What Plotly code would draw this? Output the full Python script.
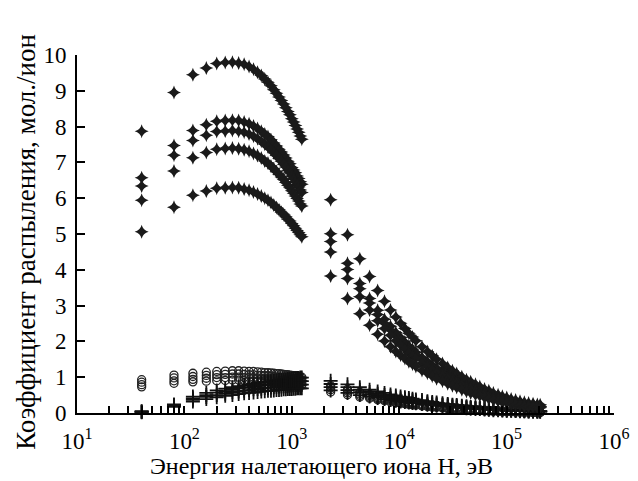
import plotly.graph_objects as go

# ---------------- data ----------------
energy_low = [40, 80, 120, 160, 200, 240, 280, 320, 360, 400, 440, 480, 520, 560, 600,
              640, 680, 720, 760, 800, 840, 880, 920, 960, 1000, 1040, 1080, 1120, 1160,
              1200, 1240]
energy_high = [2300, 3300, 4300, 5300, 6300, 7300, 8300, 9300, 10300, 11300, 12300, 13300,
               14300, 16300, 18300, 20300, 22300, 25300, 28300, 31300, 34300, 38300, 42300,
               46300, 51300, 56300, 62300, 68300, 75300, 83300, 91300, 100300, 110300,
               121300, 133300, 146300, 160300, 176300, 193300, 205300]

star1_low = [7.87, 8.95, 9.45, 9.64, 9.76, 9.79, 9.80, 9.78, 9.74, 9.68, 9.60, 9.52, 9.43, 9.33, 9.24,
             9.14, 9.03, 8.93, 8.83, 8.73, 8.63, 8.53, 8.42, 8.33, 8.22, 8.13, 8.03, 7.93, 7.84, 7.74, 7.65]
star2_low = [6.57, 7.47, 7.89, 8.05, 8.15, 8.17, 8.18, 8.17, 8.13, 8.08, 8.02, 7.95, 7.87, 7.79, 7.72,
             7.63, 7.54, 7.46, 7.37, 7.29, 7.21, 7.12, 7.03, 6.96, 6.86, 6.79, 6.71, 6.62, 6.55, 6.46, 6.39]
star3_low = [6.34, 7.20, 7.61, 7.76, 7.86, 7.88, 7.89, 7.87, 7.84, 7.79, 7.73, 7.66, 7.59, 7.51, 7.44,
             7.36, 7.27, 7.19, 7.11, 7.03, 6.95, 6.87, 6.78, 6.71, 6.62, 6.54, 6.46, 6.38, 6.31, 6.23, 6.16]
star4_low = [5.94, 6.76, 7.13, 7.28, 7.37, 7.39, 7.40, 7.38, 7.35, 7.31, 7.25, 7.19, 7.12, 7.04, 6.98,
             6.90, 6.82, 6.74, 6.67, 6.59, 6.52, 6.44, 6.36, 6.29, 6.21, 6.14, 6.06, 5.99, 5.92, 5.84, 5.78]
star5_low = [5.06, 5.75, 6.08, 6.20, 6.28, 6.29, 6.30, 6.29, 6.26, 6.22, 6.17, 6.12, 6.06, 6.00, 5.94,
             5.88, 5.81, 5.74, 5.68, 5.61, 5.55, 5.48, 5.41, 5.36, 5.29, 5.23, 5.16, 5.10, 5.04, 4.98, 4.92]

star1_high = [5.96, 4.98, 4.31, 3.81, 3.42, 3.12, 2.88, 2.68, 2.51, 2.36, 2.23, 2.12, 2.02, 1.85, 1.72,
              1.60, 1.50, 1.38, 1.27, 1.18, 1.10, 1.01, 0.93, 0.87, 0.80, 0.74, 0.67, 0.62, 0.56, 0.51,
              0.47, 0.43, 0.39, 0.36, 0.33, 0.30, 0.28, 0.26, 0.24, 0.23]
star2_high = [5.01, 4.18, 3.62, 3.20, 2.87, 2.62, 2.42, 2.25, 2.11, 1.98, 1.87, 1.78, 1.70, 1.55, 1.44,
              1.34, 1.26, 1.16, 1.07, 0.99, 0.92, 0.85, 0.78, 0.73, 0.67, 0.62, 0.56, 0.52, 0.47, 0.43,
              0.39, 0.36, 0.33, 0.30, 0.28, 0.25, 0.24, 0.22, 0.20, 0.19]
star3_high = [4.79, 4.01, 3.47, 3.07, 2.75, 2.51, 2.32, 2.16, 2.02, 1.90, 1.80, 1.71, 1.63, 1.49, 1.38,
              1.29, 1.21, 1.11, 1.02, 0.95, 0.89, 0.81, 0.75, 0.70, 0.64, 0.60, 0.54, 0.50, 0.45, 0.41,
              0.38, 0.35, 0.31, 0.29, 0.27, 0.24, 0.23, 0.21, 0.19, 0.19]
star4_high = [4.50, 3.76, 3.25, 2.88, 2.58, 2.36, 2.17, 2.02, 1.90, 1.78, 1.68, 1.60, 1.53, 1.40, 1.30,
              1.21, 1.13, 1.04, 0.96, 0.89, 0.83, 0.76, 0.70, 0.66, 0.60, 0.56, 0.51, 0.47, 0.42, 0.39,
              0.35, 0.32, 0.29, 0.27, 0.25, 0.23, 0.21, 0.20, 0.18, 0.17]
star5_high = [3.83, 3.20, 2.77, 2.45, 2.20, 2.01, 1.85, 1.72, 1.61, 1.52, 1.43, 1.36, 1.30, 1.19, 1.11,
              1.03, 0.96, 0.89, 0.82, 0.76, 0.71, 0.65, 0.60, 0.56, 0.51, 0.48, 0.43, 0.40, 0.36, 0.33,
              0.30, 0.28, 0.25, 0.23, 0.21, 0.19, 0.18, 0.17, 0.15, 0.15]

circ1_low = [0.93, 1.06, 1.11, 1.14, 1.16, 1.17, 1.18, 1.18, 1.17, 1.16, 1.16, 1.15, 1.14, 1.13, 1.13,
             1.12, 1.11, 1.10, 1.10, 1.09, 1.08, 1.07, 1.07, 1.06, 1.05, 1.04, 1.04, 1.03, 1.02, 1.01, 1.00]
circ2_low = [0.86, 0.98, 1.02, 1.05, 1.07, 1.08, 1.09, 1.09, 1.08, 1.07, 1.07, 1.06, 1.05, 1.04, 1.04,
             1.03, 1.02, 1.01, 1.01, 1.00, 0.99, 0.98, 0.98, 0.98, 0.97, 0.96, 0.96, 0.95, 0.94, 0.93, 0.92]
circ3_low = [0.79, 0.90, 0.94, 0.97, 0.99, 0.99, 1.00, 1.00, 0.99, 0.99, 0.99, 0.98, 0.97, 0.96, 0.96,
             0.95, 0.94, 0.94, 0.94, 0.93, 0.92, 0.91, 0.91, 0.90, 0.89, 0.88, 0.88, 0.88, 0.87, 0.86, 0.85]
circ4_low = [0.73, 0.83, 0.87, 0.89, 0.90, 0.91, 0.92, 0.92, 0.91, 0.90, 0.90, 0.90, 0.89, 0.88, 0.88,
             0.87, 0.87, 0.86, 0.86, 0.85, 0.84, 0.83, 0.83, 0.83, 0.82, 0.81, 0.81, 0.80, 0.80, 0.79, 0.78]

circ1_high = [0.76, 0.66, 0.58, 0.52, 0.47, 0.43, 0.40, 0.37, 0.35, 0.33, 0.31, 0.29, 0.28, 0.25, 0.23,
              0.21, 0.20, 0.18, 0.16, 0.15, 0.14, 0.13, 0.12, 0.11, 0.10, 0.09, 0.08, 0.075, 0.07, 0.06,
              0.055, 0.05, 0.045, 0.04, 0.035, 0.03, 0.03, 0.025, 0.02, 0.02]
circ2_high = [0.70, 0.61, 0.53, 0.48, 0.43, 0.40, 0.37, 0.34, 0.32, 0.30, 0.29, 0.27, 0.26, 0.23, 0.21,
              0.19, 0.18, 0.17, 0.15, 0.14, 0.13, 0.12, 0.11, 0.10, 0.09, 0.08, 0.07, 0.07, 0.06, 0.06,
              0.05, 0.05, 0.04, 0.04, 0.03, 0.03, 0.03, 0.02, 0.02, 0.02]
circ3_high = [0.65, 0.56, 0.49, 0.44, 0.40, 0.37, 0.34, 0.31, 0.30, 0.28, 0.26, 0.25, 0.24, 0.21, 0.20,
              0.18, 0.17, 0.15, 0.14, 0.13, 0.12, 0.11, 0.10, 0.09, 0.09, 0.08, 0.07, 0.06, 0.06, 0.05,
              0.05, 0.04, 0.04, 0.03, 0.03, 0.03, 0.03, 0.02, 0.02, 0.02]
circ4_high = [0.59, 0.51, 0.45, 0.41, 0.37, 0.34, 0.31, 0.29, 0.27, 0.26, 0.24, 0.23, 0.22, 0.20, 0.18,
              0.16, 0.16, 0.14, 0.12, 0.12, 0.11, 0.10, 0.09, 0.09, 0.08, 0.07, 0.06, 0.06, 0.05, 0.05,
              0.04, 0.04, 0.04, 0.03, 0.03, 0.02, 0.02, 0.02, 0.02, 0.02]

plus1_low = [0.05, 0.24, 0.46, 0.56, 0.63, 0.68, 0.72, 0.75, 0.78, 0.80, 0.82, 0.84, 0.85, 0.87, 0.88,
             0.89, 0.90, 0.91, 0.92, 0.93, 0.94, 0.94, 0.95, 0.96, 0.96, 0.97, 0.97, 0.98, 0.98, 0.99, 0.99]
plus2_low = [0.04, 0.22, 0.41, 0.50, 0.57, 0.61, 0.65, 0.68, 0.70, 0.72, 0.74, 0.76, 0.77, 0.78, 0.79,
             0.80, 0.81, 0.82, 0.83, 0.84, 0.85, 0.85, 0.86, 0.86, 0.86, 0.87, 0.87, 0.88, 0.88, 0.89, 0.89]
plus3_low = [0.03, 0.19, 0.37, 0.45, 0.50, 0.54, 0.58, 0.60, 0.62, 0.64, 0.66, 0.67, 0.68, 0.70, 0.70,
             0.71, 0.72, 0.73, 0.74, 0.74, 0.75, 0.75, 0.76, 0.77, 0.77, 0.78, 0.78, 0.78, 0.78, 0.79, 0.79]
plus4_low = [0.02, 0.17, 0.32, 0.39, 0.44, 0.48, 0.50, 0.53, 0.55, 0.56, 0.57, 0.59, 0.60, 0.61, 0.62,
             0.62, 0.63, 0.64, 0.64, 0.65, 0.66, 0.66, 0.67, 0.67, 0.67, 0.68, 0.68, 0.69, 0.69, 0.69, 0.69]

plus1_high = [0.90, 0.80, 0.72, 0.65, 0.60, 0.56, 0.52, 0.49, 0.46, 0.44, 0.42, 0.40, 0.38, 0.36, 0.33,
              0.31, 0.29, 0.27, 0.25, 0.23, 0.22, 0.20, 0.19, 0.17, 0.16, 0.15, 0.14, 0.13, 0.12, 0.11,
              0.10, 0.09, 0.085, 0.08, 0.07, 0.065, 0.06, 0.055, 0.05, 0.05]
plus2_high = [0.81, 0.72, 0.65, 0.59, 0.54, 0.50, 0.47, 0.44, 0.41, 0.40, 0.38, 0.36, 0.34, 0.32, 0.30,
              0.28, 0.26, 0.24, 0.23, 0.21, 0.20, 0.18, 0.17, 0.15, 0.14, 0.14, 0.13, 0.12, 0.11, 0.10,
              0.09, 0.08, 0.08, 0.07, 0.06, 0.06, 0.05, 0.05, 0.05, 0.05]
plus3_high = [0.72, 0.64, 0.58, 0.52, 0.48, 0.45, 0.42, 0.39, 0.37, 0.35, 0.34, 0.32, 0.30, 0.29, 0.26,
              0.25, 0.23, 0.22, 0.20, 0.18, 0.18, 0.16, 0.15, 0.14, 0.13, 0.12, 0.11, 0.10, 0.10, 0.09,
              0.08, 0.07, 0.07, 0.06, 0.06, 0.05, 0.05, 0.04, 0.04, 0.04]
plus4_high = [0.63, 0.56, 0.50, 0.46, 0.42, 0.39, 0.36, 0.34, 0.32, 0.31, 0.29, 0.28, 0.27, 0.25, 0.23,
              0.22, 0.20, 0.19, 0.18, 0.16, 0.15, 0.14, 0.13, 0.12, 0.11, 0.11, 0.10, 0.09, 0.08, 0.08,
              0.07, 0.06, 0.06, 0.06, 0.05, 0.05, 0.04, 0.04, 0.04, 0.04]

x_decades = [10, 100, 1000, 10000, 100000, 1000000]
x_decade_labels = ["10<sup>1</sup>", "10<sup>2</sup>", "10<sup>3</sup>",
                   "10<sup>4</sup>", "10<sup>5</sup>", "10<sup>6</sup>"]
y_ticks = [0, 1, 2, 3, 4, 5, 6, 7, 8, 9, 10]

x_title = "Энергия налетающего иона H, эВ"
y_title = "Коэффициент распыления, мол./ион"

# ---------------- figure ----------------
FONT = "Liberation Serif, Times New Roman, serif"
fig = go.Figure()

energies = energy_low + energy_high

circ_series = [circ1_low + circ1_high, circ2_low + circ2_high,
               circ3_low + circ3_high, circ4_low + circ4_high]
plus_series = [plus1_low + plus1_high, plus2_low + plus2_high,
               plus3_low + plus3_high, plus4_low + plus4_high]
star_series = [star1_low + star1_high, star2_low + star2_high, star3_low + star3_high,
               star4_low + star4_high, star5_low + star5_high]

for ys in circ_series:
    fig.add_trace(go.Scatter(x=energies, y=ys, mode="markers", cliponaxis=False,
                             marker=dict(symbol="circle-open", size=8, color="#222",
                                         line=dict(width=1.3, color="#222"))))
for ys in plus_series:
    fig.add_trace(go.Scatter(x=energies, y=ys, mode="markers", cliponaxis=False,
                             marker=dict(symbol="cross-thin-open", size=10, color="#111",
                                         line=dict(width=1.8, color="#111"))))
for ys in star_series:
    fig.add_trace(go.Scatter(x=energies, y=ys, mode="markers", cliponaxis=False,
                             marker=dict(symbol="star-diamond", size=10, color="#1a1a1a",
                                         line=dict(width=0))))

# minor tick positions 2..9 within each decade
minor_vals = [d * m for d in x_decades[:-1] for m in range(2, 10)]

fig.update_xaxes(type="log", range=[1, 6], showline=True, linecolor="black", linewidth=2,
                 ticks="inside", ticklen=7, tickwidth=1.5, tickcolor="black",
                 tickvals=x_decades, ticktext=x_decade_labels, showgrid=False, zeroline=False,
                 minor=dict(tickvals=minor_vals, ticks="inside", ticklen=7, tickwidth=1.5,
                            tickcolor="black", showgrid=False),
                 tickfont=dict(family=FONT, size=23, color="black"), ticklabelstandoff=6)
fig.update_yaxes(range=[0, 10], tickvals=y_ticks, showline=True, linecolor="black", linewidth=2,
                 ticks="inside", ticklen=8, tickwidth=1.5, tickcolor="black",
                 showgrid=False, zeroline=False,
                 tickfont=dict(family=FONT, size=23, color="black"), ticklabelstandoff=4)

# page body has an 8 px margin, so the figure is 8 px smaller and margins shifted
fig.add_annotation(text=x_title, xref="paper", yref="paper", x=0.456, y=-0.149,
                   xanchor="center", yanchor="middle", showarrow=False,
                   font=dict(family=FONT, size=24, color="black"))
fig.add_annotation(text=y_title, xref="paper", yref="paper", x=-0.095, y=0.478,
                   xanchor="center", yanchor="middle", showarrow=False, textangle=-90,
                   font=dict(family=FONT, size=27, color="black"))

fig.update_layout(width=630, height=473, showlegend=False,
                  margin=dict(l=69, r=24, t=47, b=68, autoexpand=False),
                  paper_bgcolor="white", plot_bgcolor="white")

fig.write_html("out.html")
